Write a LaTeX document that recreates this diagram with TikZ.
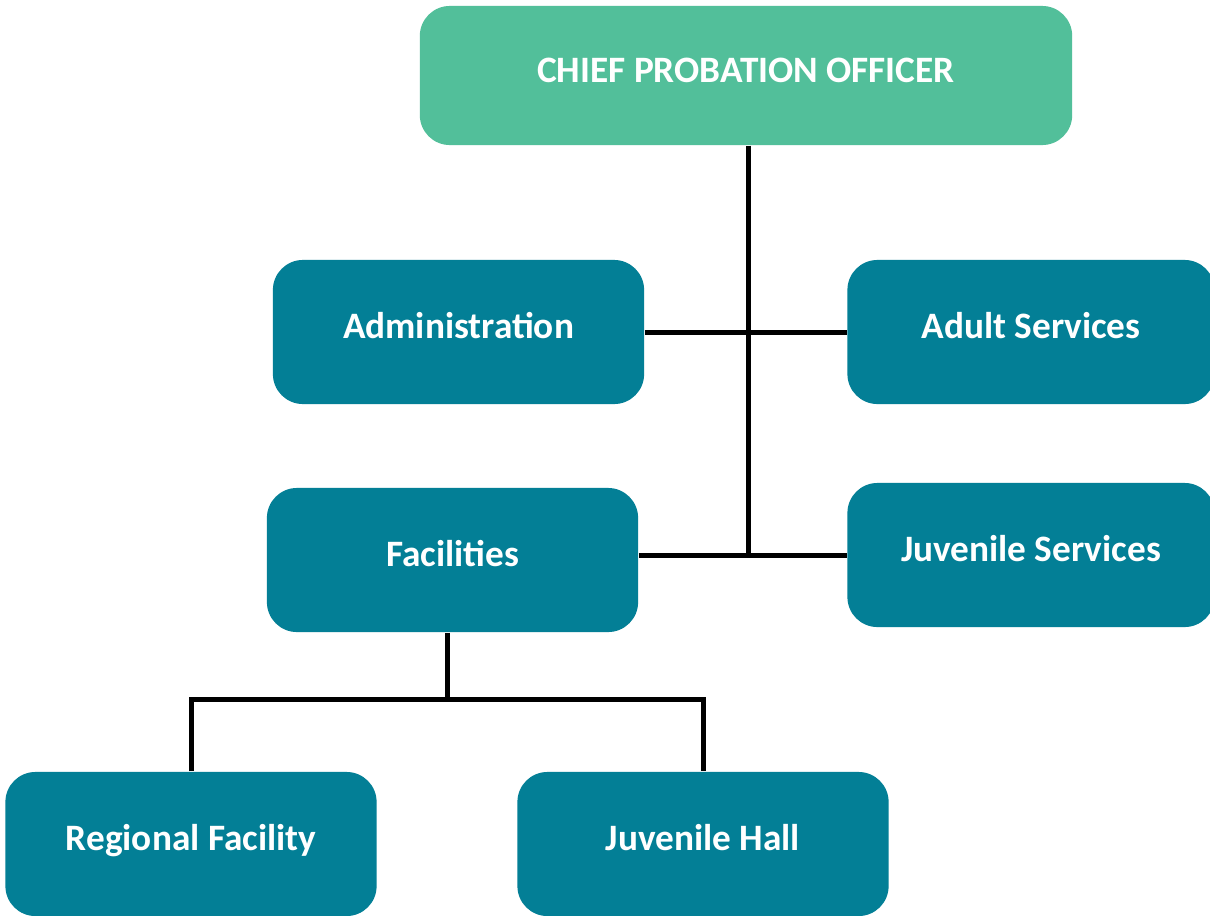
\documentclass[tikz,border=0pt]{standalone}
\usepackage{fontspec}
\setmainfont{Carlito}
\definecolor{chiefgreen}{HTML}{52BF9A}
\definecolor{unitteal}{HTML}{037F96}
\tikzset{
  unit/.style={fill=unitteal, rounded corners=0.3cm, text=white, font=\fontsize{10.6}{12}\selectfont\bfseries,
    minimum width=3.71cm, minimum height=1.44cm, inner sep=0pt, text height=8pt, text depth=4.1pt},
  chief/.style={unit, fill=chiefgreen, minimum width=6.52cm, minimum height=1.39cm},
  link/.style={line width=0.05cm, black}
}
\begin{document}
\begin{tikzpicture}[x=0.01cm,y=-0.01cm]
  \clip (0,0) rectangle (1210,915);
  \fill[white] (0,0) rectangle (1210,915);

  \node[chief] (cpo) at (746,75.5) {CHIEF PROBATION OFFICER};

  \node[unit] (admin) at (458.5,332) {Administration};
  \node[unit, minimum width=3.67cm] (adult) at (1031,332) {Adult Services};
  \node[unit] (fac) at (452.5,560) {Facilities};
  \node[unit, minimum width=3.67cm] (juvsvc) at (1031,555) {Juvenile Services};

  \node[unit] (regional) at (191,844) {Regional Facility};
  \node[unit] (hall) at (703,844) {Juvenile Hall};

  \coordinate (bus) at (447,699);

  \draw[link] ([xshift=0.02cm]cpo.south) -- ([xshift=0.02cm]cpo.south |- juvsvc.west);
  \draw[link] (admin.east) -- (adult.west);
  \draw[link] (juvsvc.west) -- (juvsvc.west -| fac.east);
  \draw[link] (fac.south -| bus) -- (bus);
  \draw[link] (regional.north) |- (bus) -| (hall.north);
\end{tikzpicture}
\end{document}
